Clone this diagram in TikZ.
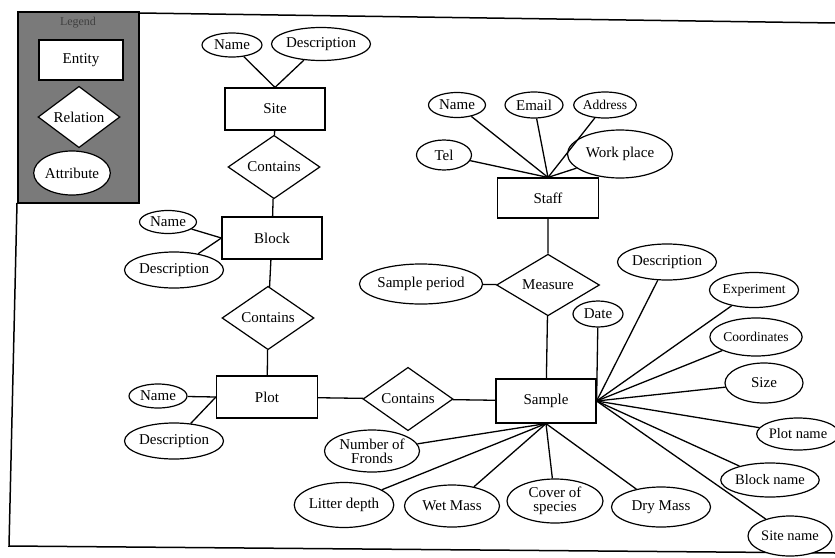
\documentclass[tikz,border=0pt]{standalone}
\usepackage{fontspec}
\setmainfont{Liberation Serif}
\usetikzlibrary{shapes.geometric}
\begin{document}
\begin{tikzpicture}[x=1pt,y=-1pt,
  sz/.style 2 args={minimum width=#1pt, minimum height=#2pt},
  ent/.style={draw, line width=1.2pt, rectangle, inner sep=0pt, fill=white, font=\fontsize{15}{15}\selectfont},
  rel/.style={draw, line width=1.2pt, diamond, inner sep=0pt, fill=white, font=\fontsize{15}{15}\selectfont},
  attr/.style={draw, ellipse, line width=1.2pt, inner sep=0pt, fill=white, align=center, font=\fontsize{15}{15}\selectfont},
  smallattr/.style={attr, font=\fontsize{13.5}{13.5}\selectfont},
  link/.style={line width=1.3pt},
  frame/.style={line width=1.5pt}
]
\useasboundingbox (0,0) rectangle (835,557);

% frame
\draw[frame] (139,13) -- (835,23);
\draw[frame] (17,203) -- (9,546) -- (835,553);

% legend
\fill[black!52] (18,12) rectangle (139,203);
\draw[line width=1.6pt] (18,12) rectangle (139,203);
\node[font=\fontsize{12}{12}\selectfont, text=black!75] (legtitle) at (78,23) {Legend};
\node[ent, sz={84}{40}] (lent) at (81,60) {Entity};
\node[rel, sz={82}{50}] (lrel) at (79,117) {Relation};
\node[attr, sz={75}{44}] (lattr) at (72,173) {Attribute};

% entities
\node[ent, sz={100}{42}] (site) at (275,109) {Site};
\node[ent, sz={100}{42}] (block) at (272,238) {Block};
\node[ent, sz={101}{42}] (plot) at (267,397) {Plot};
\node[ent, sz={100}{44}] (sample) at (546,401) {Sample};
\node[ent, sz={101}{40}] (staff) at (548,198) {Staff};

% relations
\node[rel, sz={92}{45}] (cont1) at (274,167) {Contains};
\node[rel, sz={92}{43}] (cont2) at (268,318) {Contains};
\node[rel, sz={90}{45}] (cont3) at (408,399) {Contains};
\node[rel, sz={103}{44}] (measure) at (548,285) {Measure};

% attributes
\node[attr, sz={60}{24}] (sname) at (232,45) {Name};
\node[attr, sz={88}{33}] (sdesc) at (321,44) {Description};
\node[attr, sz={57}{23}] (bname) at (168,222) {Name};
\node[attr, sz={88}{36}] (bdesc) at (174,270) {Description};
\node[attr, sz={58}{24}] (pname) at (158,396) {Name};
\node[attr, sz={88}{36}] (pdesc) at (174,441) {Description};

\node[attr, sz={57}{25}] (stname) at (457,105) {Name};
\node[attr, sz={58}{26}] (email) at (534,105) {Email};
\node[smallattr, sz={56}{26}] (addr) at (605,105) {Address};
\node[attr, sz={55}{30}] (tel) at (444,155) {Tel};
\node[attr, sz={105}{48}] (work) at (620,154) {Work place};

\node[attr, sz={97}{40}] (speriod) at (421,284) {Sample period};
\node[attr, sz={50}{26}] (date) at (598,314) {Date};
\node[attr, sz={89}{36}] (mdesc) at (667,262) {Description};
\node[smallattr, sz={82}{35}] (exper) at (754,290) {Experiment};
\node[smallattr, sz={88}{38}] (coord) at (756,337) {Coordinates};
\node[attr, sz={78}{40}] (size) at (764,383) {Size};
\node[attr, sz={70}{32}, font=\fontsize{14.5}{14.5}\selectfont] (plotn) at (798,434) {Plot name};
\node[attr, sz={85}{34}, font=\fontsize{14.5}{14.5}\selectfont] (blockn) at (770,480) {Block name};
\node[attr, sz={84}{40}, font=\fontsize{14.5}{14.5}\selectfont] (siten) at (790,536) {Site name};

\node[attr, sz={95}{42}, font=\fontsize{15}{14}\selectfont] (fronds) at (372,451) {Number of\\Fronds};
\node[attr, sz={95}{45}] (litter) at (344,505) {Litter depth};
\node[attr, sz={95}{42}] (wet) at (452,506) {Wet Mass};
\node[attr, sz={96}{44}, font=\fontsize{15}{14}\selectfont] (cover) at (555,501) {Cover of\\species};
\node[attr, sz={99}{40}] (dry) at (661,507) {Dry Mass};

% connectors
\draw[link] (site.north) -- (sname);
\draw[link] (site.north) -- (sdesc);
\draw[link] (site) -- (cont1) -- (block) -- (cont2) -- (plot);
\draw[link] (block.west) -- (bname);
\draw[link] (block.west) -- (bdesc);
\draw[link] (plot.west) -- (pname);
\draw[link] (plot.west) -- (pdesc);
\draw[link] (plot) -- (cont3) -- (sample);
\draw[link] (staff) -- (measure) -- (sample);
\draw[link] (measure) -- (speriod);
\foreach \a in {stname,email,addr,tel,work} \draw[link] (staff.north) -- (\a);
\foreach \a in {date,mdesc,exper,coord,size,plotn,blockn,siten} \draw[link] (sample.east) -- (\a);
\foreach \a in {fronds,litter,wet,cover,dry} \draw[link] (sample.south) -- (\a);
\end{tikzpicture}
\end{document}
